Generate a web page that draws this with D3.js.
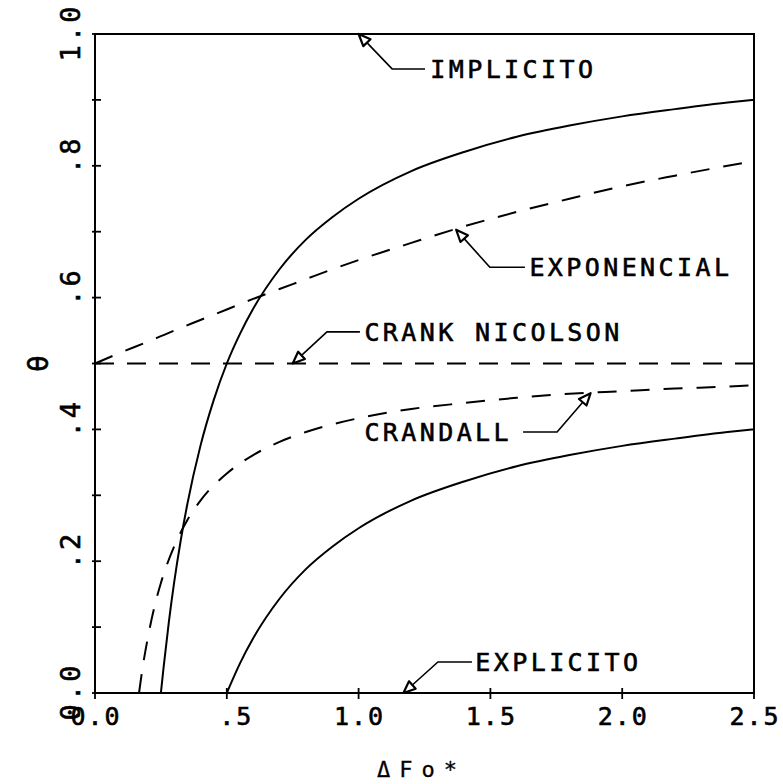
<!DOCTYPE html>
<html>
<head>
<meta charset="utf-8">
<script src="https://cdn.jsdelivr.net/npm/d3@7"></script>
<style>
  html, body { margin: 0; padding: 0; background: #fff; }
  svg { display: block; }
  text { font-family: "DejaVu Sans Mono", "Liberation Mono", monospace; fill: #000; stroke: #000; stroke-width: 0.6px; }
</style>
</head>
<body>
<svg id="chart" width="783" height="784"></svg>
<script>
// Weighting factor θ against the time step ΔFo* for the time-integration schemes.
const xDomain = [0, 2.5];
const yDomain = [0, 1];

const xTickValues = [0, 0.5, 1.0, 1.5, 2.0, 2.5];
const xTickLabels = ["0.0", ".5", "1.0", "1.5", "2.0", "2.5"];
const yTickValues = [0, 0.1, 0.2, 0.3, 0.4, 0.5, 0.6, 0.7, 0.8, 0.9, 1.0];
const yLabelValues = [0, 0.2, 0.4, 0.6, 0.8, 1.0];
const yTickLabels = ["0.0", ".2", ".4", ".6", ".8", "1.0"];

// Solid limit curves
const upperLimit = [[0.25,0],[0.26,0.038],[0.28,0.107],[0.30,0.167],[0.325,0.231],[0.35,0.286],
  [0.40,0.375],[0.45,0.444],[0.50,0.500],[0.55,0.545],[0.60,0.583],[0.70,0.643],[0.80,0.688],
  [0.90,0.722],[1.00,0.750],[1.20,0.792],[1.40,0.821],[1.60,0.844],[1.80,0.861],[2.00,0.875],
  [2.20,0.886],[2.40,0.896],[2.50,0.900]];
const lowerLimit = [[0.50,0],[0.55,0.045],[0.60,0.083],[0.70,0.143],[0.80,0.188],[0.90,0.222],
  [1.00,0.250],[1.20,0.292],[1.40,0.321],[1.60,0.344],[1.80,0.361],[2.00,0.375],[2.20,0.386],
  [2.40,0.396],[2.50,0.400]];

// Dashed scheme curves
const exponencial = [[0,0.500],[0.1,0.517],[0.2,0.533],[0.3,0.550],[0.4,0.566],[0.5,0.582],
  [0.6,0.598],[0.7,0.613],[0.8,0.628],[0.9,0.643],[1.0,0.657],[1.2,0.683],[1.4,0.708],
  [1.6,0.730],[1.8,0.750],[2.0,0.769],[2.2,0.785],[2.4,0.800],[2.5,0.807]];
const crankNicolson = [[0,0.5],[2.5,0.5]];
const crandall = [[0.167,0],[0.18,0.037],[0.20,0.083],[0.225,0.130],[0.25,0.167],[0.30,0.222],
  [0.35,0.262],[0.40,0.292],[0.50,0.333],[0.60,0.361],[0.70,0.381],[0.80,0.396],[1.00,0.417],
  [1.20,0.431],[1.40,0.440],[1.60,0.448],[1.80,0.454],[2.00,0.458],[2.20,0.462],[2.40,0.465],
  [2.50,0.467]];

// Curve labels: pointed location, leader elbow, leader end and text start (data units)
const labelNames  = ["IMPLICITO", "EXPONENCIAL", "CRANK NICOLSON", "CRANDALL", "EXPLICITO"];
const labelPoints = [[1.00,1.000],[1.37,0.703],[0.75,0.500],[1.88,0.455],[1.17,0.000]];
const labelElbows = [[1.127,0.947],[1.498,0.646],[0.880,0.548],[1.753,0.396],[1.301,0.047]];
const labelEnds   = [1.252, 1.631, 1.005, 1.624, 1.430];
const labelTextX  = [1.272, 1.648, 1.022, 1.022, 1.443];

const svg = d3.select("#chart");
const x = d3.scaleLinear().domain(xDomain).range([95, 754]);
const y = d3.scaleLinear().domain(yDomain).range([693, 34]);

const line = d3.line().x(d => x(d[0])).y(d => y(d[1])).curve(d3.curveMonotoneX);

// Frame
svg.append("rect")
  .attr("x", x(0)).attr("y", y(1))
  .attr("width", x(2.5) - x(0)).attr("height", y(0) - y(1))
  .attr("fill", "none").attr("stroke", "#000").attr("stroke-width", 2);

// Y ticks (cross the axis)
svg.append("g").selectAll("line").data(yTickValues).join("line")
  .attr("x1", x(0) - 3).attr("x2", x(0) + 6)
  .attr("y1", d => y(d)).attr("y2", d => y(d))
  .attr("stroke", "#000").attr("stroke-width", 1.8);

// X ticks
svg.append("g").selectAll("line").data(xTickValues).join("line")
  .attr("x1", d => x(d)).attr("x2", d => x(d))
  .attr("y1", y(0) - 5).attr("y2", y(0) + 6)
  .attr("stroke", "#000").attr("stroke-width", 1.8);

// Tick labels, decimal point centred on the tick
const FS = 25, GLYPH = FS * 0.602;
const YFS = 27, YGLYPH = YFS * 0.602;
const xLs = 2, yLs = 3;
svg.append("g").selectAll("text").data(xTickValues).join("text")
  .attr("font-size", FS).attr("letter-spacing", xLs)
  .attr("x", (d, i) => x(d) - xTickLabels[i].indexOf(".") * (GLYPH + xLs) - GLYPH / 2)
  .attr("y", 725)
  .text((d, i) => xTickLabels[i]);

svg.append("g").selectAll("text").data(yLabelValues).join("text")
  .attr("font-size", YFS).attr("letter-spacing", yLs)
  .attr("transform", d => `translate(80,${y(d)}) rotate(-90)`)
  .attr("x", (d, i) => -yTickLabels[i].indexOf(".") * (YGLYPH + yLs) - YGLYPH / 2)
  .attr("y", 0)
  .text((d, i) => yTickLabels[i]);

// Axis titles
svg.append("text")
  .attr("font-size", 22).attr("letter-spacing", 9)
  .style("stroke-width", "0.3px")
  .attr("x", 377).attr("y", 777)
  .text("ΔFo*");
svg.append("text")
  .attr("font-size", 28)
  .attr("text-anchor", "middle")
  .attr("transform", `translate(48,${y(0.5)}) rotate(-90)`)
  .text("θ");

// Curves
const curves = [
  { data: upperLimit, dash: null },
  { data: lowerLimit, dash: null },
  { data: exponencial, dash: "19,14" },
  { data: crankNicolson, dash: "19,13" },
  { data: crandall, dash: "19,14" }
];
svg.append("g").selectAll("path").data(curves).join("path")
  .attr("d", d => line(d.data))
  .attr("fill", "none").attr("stroke", "#000").attr("stroke-width", 2)
  .attr("stroke-dasharray", d => d.dash);

// Labels with arrow markers and leaders
const ann = svg.append("g");
labelNames.forEach((name, i) => {
  const px = x(labelPoints[i][0]), py = y(labelPoints[i][1]);
  const ex = x(labelElbows[i][0]), ey = y(labelElbows[i][1]);
  const endX = x(labelEnds[i]);
  const dx = ex - px, dy = ey - py, len = Math.hypot(dx, dy);
  const ux = dx / len, uy = dy / len;
  const bx = px + ux * 12, by = py + uy * 12;
  const nx = -uy * 5, ny = ux * 5;
  ann.append("path")
    .attr("d", `M${px},${py}L${bx + nx},${by + ny}L${bx - nx},${by - ny}Z`)
    .attr("fill", "none").attr("stroke", "#000").attr("stroke-width", 2.2)
    .attr("stroke-linejoin", "round");
  ann.append("path")
    .attr("d", `M${bx},${by}L${ex},${ey}L${endX},${ey}`)
    .attr("fill", "none").attr("stroke", "#000").attr("stroke-width", 1.6);
  ann.append("text")
    .attr("font-size", FS).attr("letter-spacing", 3.4)
    .attr("x", x(labelTextX[i])).attr("y", ey + 9)
    .text(name);
});
</script>
</body>
</html>
